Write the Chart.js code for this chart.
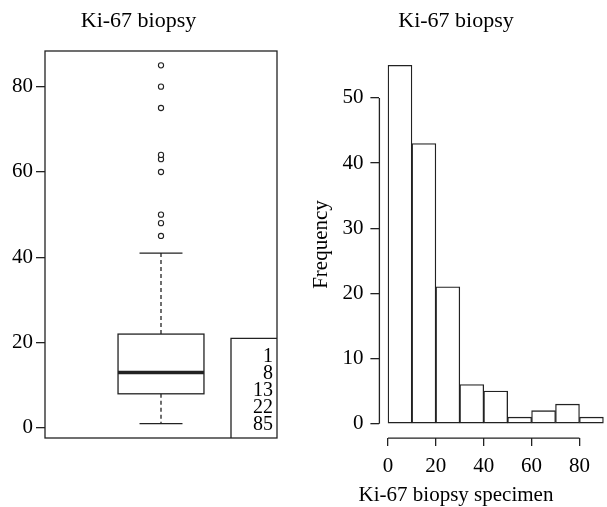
<!DOCTYPE html>
<html>
<head>
<meta charset="utf-8">
<title>Ki-67 biopsy</title>
<script src="https://cdn.jsdelivr.net/npm/chart.js@4/dist/chart.umd.min.js"></script>
<style>
  html, body { margin: 0; padding: 0; background: #fff; }
  body { position: relative; width: 607px; height: 507px; overflow: hidden; }
  .panel { position: absolute; top: 0; }
</style>
</head>
<body>
<canvas id="boxChart" class="panel" style="left:0" width="315" height="507"></canvas>
<canvas id="histChart" class="panel" style="left:300px" width="381" height="507"></canvas>
<script>
// dane z wykresu pudełkowego
const fiveNum = [1, 8, 13, 22, 85];          // min, Q1, mediana, Q3, max
const whiskerEnds = [1, 41];                  // dolny i górny wąs
const outliers = [45, 48, 50, 60, 63, 64, 75, 80, 85];
const boxTicks = [0, 20, 40, 60, 80];

// dane histogramu
const breaks = [0, 10, 20, 30, 40, 50, 60, 70, 80, 90];
const counts = [55, 43, 21, 6, 5, 1, 2, 3, 1];
const histYTicks = [0, 10, 20, 30, 40, 50];
const histXTicks = [0, 20, 40, 60, 80];

const ink = '#222';
Chart.defaults.font.family = '"Liberation Serif", "Times New Roman", serif';
Chart.defaults.color = '#000';

const titleOpts = {
  display: true,
  text: 'Ki-67 biopsy',
  font: { size: 22, weight: 'normal' },
  color: '#000',
  padding: { top: 8, bottom: 16.6 }
};

const tickAxis = (ticks, extra) => Object.assign({
  afterBuildTicks: s => { s.ticks = ticks.map(v => ({ value: v })); },
  grid: { drawOnChartArea: false, tickLength: 9, color: ink, lineWidth: 1.3, offset: false },
  border: { display: false },
  ticks: { font: { size: 21 }, color: '#000', maxRotation: 0, autoSkip: false }
}, extra);

// pudełko, wąsy, mediana, ramka i ramka z podsumowaniem
const boxPlugin = {
  id: 'boxPlot',
  beforeDatasetsDraw(chart) {
    const { ctx, chartArea: a, scales: { x, y } } = chart;
    const [, q1, med, q3] = fiveNum;
    const xc = x.getPixelForValue(1);
    ctx.save();
    ctx.strokeStyle = ink;
    ctx.lineWidth = 1.3;

    ctx.setLineDash([4, 3]);
    ctx.beginPath();
    ctx.moveTo(xc, y.getPixelForValue(q3));
    ctx.lineTo(xc, y.getPixelForValue(whiskerEnds[1]));
    ctx.moveTo(xc, y.getPixelForValue(q1));
    ctx.lineTo(xc, y.getPixelForValue(whiskerEnds[0]));
    ctx.stroke();
    ctx.setLineDash([]);

    ctx.beginPath();
    whiskerEnds.forEach(v => {
      ctx.moveTo(x.getPixelForValue(0.9), y.getPixelForValue(v));
      ctx.lineTo(x.getPixelForValue(1.1), y.getPixelForValue(v));
    });
    ctx.stroke();

    const bl = x.getPixelForValue(0.8), br = x.getPixelForValue(1.2);
    const bt = y.getPixelForValue(q3), bb = y.getPixelForValue(q1);
    ctx.fillStyle = '#fff';
    ctx.fillRect(bl, bt, br - bl, bb - bt);
    ctx.strokeRect(bl, bt, br - bl, bb - bt);

    ctx.lineWidth = 3.4;
    ctx.beginPath();
    ctx.moveTo(bl, y.getPixelForValue(med));
    ctx.lineTo(br, y.getPixelForValue(med));
    ctx.stroke();

    ctx.lineWidth = 1.3;
    ctx.strokeRect(a.left, a.top, a.width, a.height);

    // ramka z pięcioma liczbami
    const insetLeft = a.right - 46;
    const insetTop = y.getPixelForValue(21);
    ctx.beginPath();
    ctx.moveTo(insetLeft, a.bottom);
    ctx.lineTo(insetLeft, insetTop);
    ctx.lineTo(a.right, insetTop);
    ctx.stroke();

    ctx.fillStyle = '#000';
    ctx.font = '20px "Liberation Serif", serif';
    ctx.textAlign = 'right';
    ctx.textBaseline = 'alphabetic';
    fiveNum.forEach((v, i) => {
      ctx.fillText(String(v), a.right - 4, a.bottom - 8 - 17 * (fiveNum.length - 1 - i));
    });
    ctx.restore();
  }
};

new Chart(document.getElementById('boxChart'), {
  type: 'scatter',
  data: {
    datasets: [{
      data: outliers.map(v => ({ x: 1, y: v })),
      pointRadius: 2.6,
      pointBorderWidth: 1.1,
      pointBorderColor: ink,
      pointBackgroundColor: '#fff'
    }]
  },
  options: {
    responsive: false,
    animation: false,
    events: [],
    layout: { padding: { left: 0, right: 38, top: 0, bottom: 69 } },
    plugins: { legend: { display: false }, tooltip: { enabled: false }, title: titleOpts },
    scales: {
      x: { type: 'linear', min: 0.46, max: 1.54, display: false },
      y: tickAxis(boxTicks, {
        min: -2.36, max: 88.36,
        afterFit: s => { s.width = 45; }
      })
    }
  },
  plugins: [boxPlugin]
});

// linie osi tylko w zakresie podziałki, jak w R
const axisLinePlugin = {
  id: 'axisLines',
  afterDraw(chart) {
    const { ctx, chartArea: a, scales: { x, y } } = chart;
    ctx.save();
    ctx.strokeStyle = ink;
    ctx.lineWidth = 1.3;
    ctx.beginPath();
    ctx.moveTo(a.left, y.getPixelForValue(histYTicks[0]));
    ctx.lineTo(a.left, y.getPixelForValue(histYTicks[histYTicks.length - 1]));
    ctx.moveTo(x.getPixelForValue(histXTicks[0]), a.bottom);
    ctx.lineTo(x.getPixelForValue(histXTicks[histXTicks.length - 1]), a.bottom);
    ctx.stroke();
    ctx.restore();
  }
};

const histY = tickAxis(histYTicks, {
  min: -2.2, max: 57.2,
  afterFit: s => { s.width = 79.4; },
  title: { display: true, text: 'Frequency', font: { size: 21 }, color: '#000', padding: { top: 8.4, bottom: 0 } }
});
histY.ticks.padding = 7;

const histX = tickAxis(histXTicks, {
  type: 'linear', min: -3.6, max: 93.6, offset: false,
  afterFit: s => { s.height = 46.9; }
});
histX.grid.tickLength = 8;
histX.ticks.padding = 8;

new Chart(document.getElementById('histChart'), {
  type: 'bar',
  data: {
    datasets: [{
      data: counts.map((c, i) => ({ x: (breaks[i] + breaks[i + 1]) / 2, y: c })),
      backgroundColor: '#fff',
      borderColor: ink,
      borderWidth: 1.3,
      borderSkipped: false,
      barPercentage: 1,
      categoryPercentage: 1
    }]
  },
  options: {
    responsive: false,
    animation: false,
    events: [],
    layout: { padding: { left: 0, right: 69, top: 0, bottom: 0 } },
    plugins: {
      legend: { display: false },
      tooltip: { enabled: false },
      title: titleOpts,
      subtitle: {
        display: true, position: 'bottom', text: 'Ki-67 biopsy specimen',
        font: { size: 21, weight: 'normal', lineHeight: 1.05 }, color: '#000', padding: 0
      }
    },
    scales: { x: histX, y: histY }
  },
  plugins: [axisLinePlugin]
});
</script>
</body>
</html>
